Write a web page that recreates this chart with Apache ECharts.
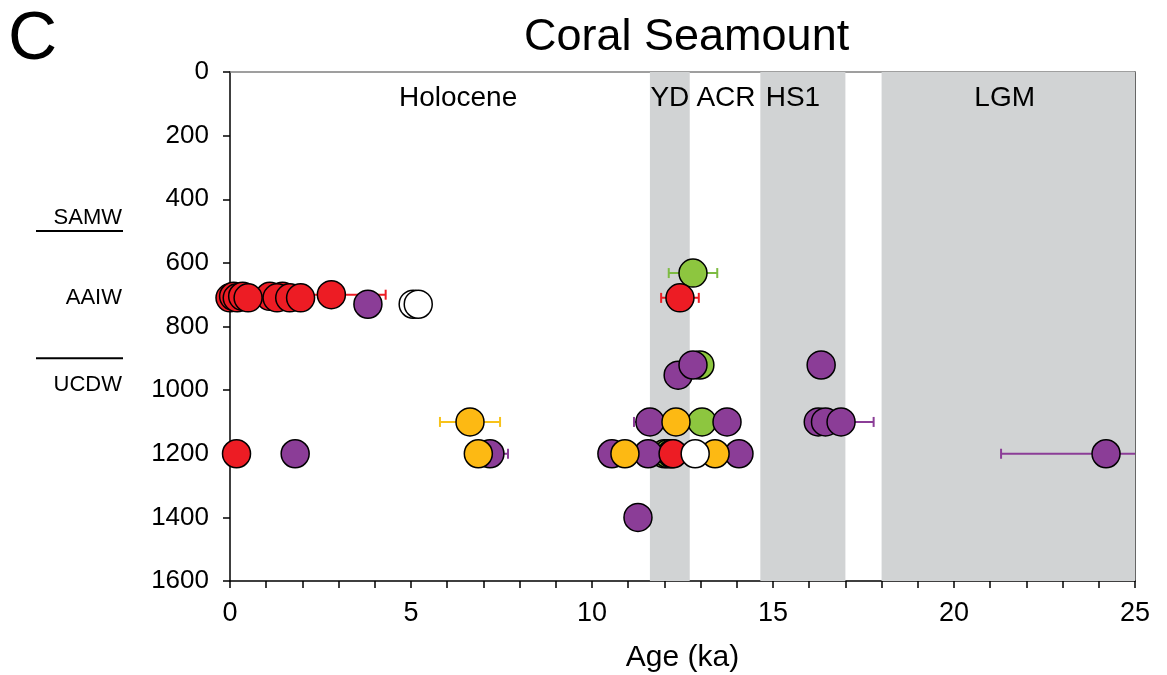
<!DOCTYPE html>
<html>
<head>
<meta charset="utf-8">
<script src="https://cdn.jsdelivr.net/npm/echarts@6/dist/echarts.min.js"></script>
<style>
  html, body { margin: 0; padding: 0; background: #fff; }
  #chart { width: 1167px; height: 675px; }
</style>
</head>
<body>
<div id="chart"></div>
<script>
// Coral ages (ka) vs. water depth (m), grouped by marker colour: [age, depth, ±error]
const redPts = [
  [0.0, 710], [0.1, 705], [0.2, 710], [0.35, 705], [1.1, 705], [1.45, 705],
  [1.3, 710], [1.65, 710], [1.95, 710], [0.5, 710], [2.8, 700, 1.5],
  [12.43, 710, 0.52], [0.18, 1200], [12.24, 1200]
];
const purplePts = [
  [3.81, 730], [12.38, 953], [12.79, 921], [16.33, 921],
  [11.6, 1100, 0.44], [13.73, 1100], [16.25, 1100], [16.45, 1100], [16.88, 1100, 0.9],
  [1.8, 1200], [7.18, 1200, 0.5], [10.55, 1200], [11.55, 1200], [14.06, 1200],
  [24.2, 1200, 2.9], [11.27, 1400]
];
const yellowPts = [
  [6.63, 1100, 0.83], [12.32, 1100], [6.86, 1200], [10.91, 1200], [13.4, 1200]
];
const greenPts = [
  [12.79, 632, 0.67], [12.98, 921], [13.04, 1100], [12.0, 1200], [12.1, 1200], [12.2, 1200]
];
const whitePts = [
  [5.06, 730], [5.2, 730], [12.85, 1200]
];

// Climate intervals (ka) shaded in grey, and interval names placed at [age, depth]
const shadedIntervals = [[11.6, 12.7], [14.65, 17.0], [18.0, 25]];
const eraLabels = [
  ['Holocene', 6.3, 82], ['YD', 12.15, 82], ['ACR', 13.7, 82],
  ['HS1', 15.55, 82], ['LGM', 21.4, 82]
];

// Water masses on the depth scale and their boundaries (m)
const waterMasses = [['SAMW', 460], ['AAIW', 710], ['UCDW', 985]];
const waterBoundaries = [500, 900];

const xTicks = [0, 5, 10, 15, 20, 25];
const yTicks = [0, 200, 400, 600, 800, 1000, 1200, 1400, 1600];

const FONT = '"Liberation Sans", Arial, sans-serif';

const groups = [
  { name: 'green', pts: greenPts, color: '#8DC63F' },
  { name: 'purple', pts: purplePts, color: '#8B3D97' },
  { name: 'yellow', pts: yellowPts, color: '#FDB913' },
  { name: 'red', pts: redPts, color: '#ED1C24' },
  { name: 'white', pts: whitePts, color: '#FFFFFF' }
];

const errorColors = { green: '#7DBB42', purple: '#8B3D97', yellow: '#F7C21A', red: '#ED1C24', white: '#000' };

function errorSeries(g) {
  return {
    type: 'custom',
    name: g.name + ' error',
    clip: true,
    z: 2,
    data: g.pts.filter(p => p[2]).map(p => [p[0], p[1], p[2]]),
    renderItem: function (params, api) {
      const x = api.value(0), y = api.value(1), e = api.value(2);
      const a = api.coord([x - e, y]);
      const b = api.coord([x + e, y]);
      const st = { stroke: errorColors[g.name], lineWidth: 2 };
      const cap = 5;
      return {
        type: 'group',
        children: [
          { type: 'line', shape: { x1: a[0], y1: a[1], x2: b[0], y2: b[1] }, style: st },
          { type: 'line', shape: { x1: a[0], y1: a[1] - cap, x2: a[0], y2: a[1] + cap }, style: st },
          { type: 'line', shape: { x1: b[0], y1: b[1] - cap, x2: b[0], y2: b[1] + cap }, style: st }
        ]
      };
    }
  };
}

function markerSeries(g) {
  return {
    type: 'scatter',
    name: g.name,
    z: 3,
    symbol: 'circle',
    symbolSize: 28,
    data: g.pts.map(p => [p[0], p[1]]),
    itemStyle: { color: g.color, borderColor: '#000', borderWidth: 1.5, opacity: 1 },
    emphasis: { disabled: true }
  };
}

const chart = echarts.init(document.getElementById('chart'));

const option = {
  animation: false,
  backgroundColor: '#fff',
  textStyle: { fontFamily: FONT },
  title: {
    text: 'Coral Seamount',
    left: 519, top: 10,
    textStyle: { fontFamily: FONT, fontSize: 45, fontWeight: 'normal', color: '#000' }
  },
  grid: { left: 230, right: 32, top: 72, bottom: 94, containLabel: false, outerBoundsMode: 'none' },
  xAxis: [{
    type: 'value', min: xTicks[0], max: xTicks[xTicks.length - 1], interval: 5,
    name: 'Age (ka)', nameLocation: 'middle', nameGap: 62,
    nameTextStyle: { fontFamily: FONT, fontSize: 30, color: '#000' },
    axisLine: { show: true, onZero: false, lineStyle: { color: '#000', width: 1.5 } },
    axisTick: { show: true, inside: false, length: 7, lineStyle: { color: '#000', width: 1.5 } },
    minorTick: { show: true, splitNumber: 5, length: 7, lineStyle: { color: '#000', width: 1.5 } },
    axisLabel: { fontFamily: FONT, fontSize: 27, color: '#000', margin: 19, formatter: v => String(v) },
    splitLine: { show: false }
  }, {
    type: 'value', position: 'top', min: 0, max: 25,
    axisLine: { show: true, onZero: false, lineStyle: { color: '#808080', width: 1.5 } },
    axisTick: { show: false }, axisLabel: { show: false }, splitLine: { show: false }
  }],
  yAxis: [{
    type: 'value', inverse: true, min: yTicks[0], max: yTicks[yTicks.length - 1], interval: 200,
    axisLine: { show: true, onZero: false, lineStyle: { color: '#000', width: 1.5 } },
    axisTick: { show: true, inside: false, length: 7, lineStyle: { color: '#000', width: 1.5 } },
    axisLabel: { fontFamily: FONT, fontSize: 26, color: '#000', margin: 21, formatter: v => String(v) },
    splitLine: { show: false }
  }, {
    type: 'value', position: 'right', inverse: true, min: 0, max: 1600,
    axisLine: { show: true, onZero: false, lineStyle: { color: '#333', width: 1.5 } },
    axisTick: { show: false }, axisLabel: { show: false }, splitLine: { show: false }
  }],
  series: [
    {
      type: 'scatter',
      name: 'intervals',
      z: 1,
      symbolSize: 0,
      silent: true,
      itemStyle: { opacity: 1 },
      data: eraLabels.map(e => ({ name: e[0], value: [e[1], e[2]] })),
      label: {
        show: true, position: 'inside', formatter: '{b}',
        fontFamily: FONT, fontSize: 28, color: '#000', opacity: 1
      },
      markArea: {
        silent: true,
        itemStyle: { color: '#D1D3D4', opacity: 1 },
        data: shadedIntervals.map(r => [{ xAxis: r[0] }, { xAxis: r[1] }])
      }
    },
    ...groups.map(errorSeries),
    ...groups.map(markerSeries)
  ]
};

chart.setOption(option);

// Water-mass labels and boundary lines on the left of the depth axis
const wmGraphics = [];
waterMasses.forEach(w => {
  const py = chart.convertToPixel({ yAxisIndex: 0 }, w[1]);
  wmGraphics.push({
    type: 'text', x: 122, y: py,
    style: { text: w[0], fontFamily: FONT, fontSize: 22, fill: '#000', align: 'right', verticalAlign: 'middle' }
  });
});
waterBoundaries.forEach(d => {
  const py = chart.convertToPixel({ yAxisIndex: 0 }, d);
  wmGraphics.push({
    type: 'line', shape: { x1: 36, y1: py, x2: 123, y2: py },
    style: { stroke: '#000', lineWidth: 2 }
  });
});
wmGraphics.push({
  type: 'text', x: 8, y: 6,
  style: { text: 'C', fontFamily: FONT, fontSize: 68, fill: '#000' }
});
chart.setOption({ graphic: wmGraphics });
</script>
</body>
</html>
